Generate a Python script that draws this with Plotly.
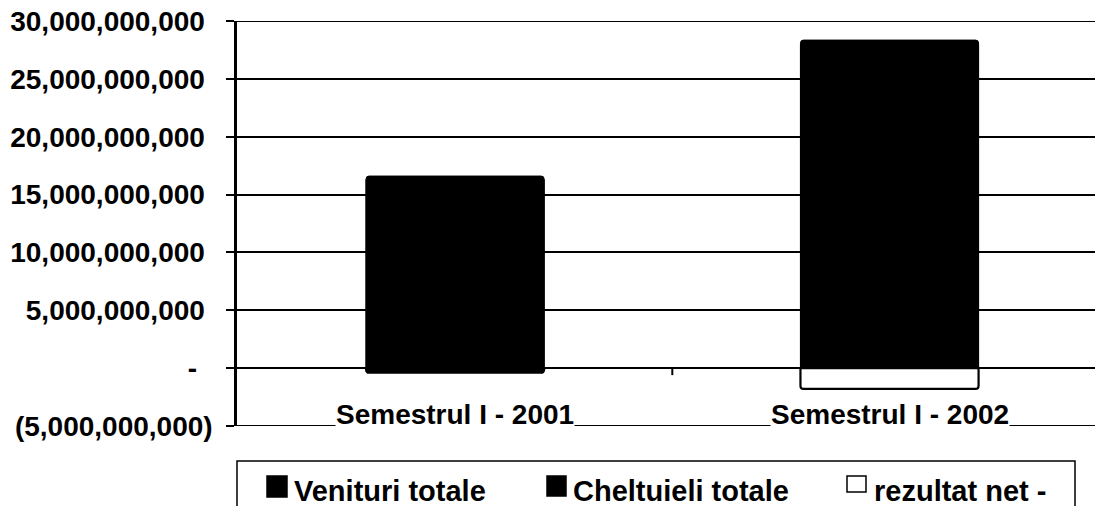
import plotly.graph_objects as go

# ---- data ----
categories = ["Semestrul I - 2001", "Semestrul I - 2002"]
venituri = [16.6e9, 28.35e9]
cheltuieli = [16.3e9, 27.9e9]
rezultat_net = [-0.4e9, -1.8e9]
series_names = ["Venituri totale", "Cheltuieli totale", "rezultat net -"]
tick_vals = [30e9, 25e9, 20e9, 15e9, 10e9, 5e9, 0, -5e9]
tick_text = ["30,000,000,000\u00a0", "25,000,000,000\u00a0", "20,000,000,000\u00a0",
             "15,000,000,000\u00a0", "10,000,000,000\u00a0", "5,000,000,000\u00a0",
             "-\u00a0\u00a0", "(5,000,000,000)"]

W, H = 1095, 506
ML, MR, MT, MB = 237, 0, 21, 80
PW, PH = W - ML - MR, H - MT - MB

def px(x):
    return (x - ML) / PW

def py(y):
    return (H - MB - y) / PH

FONT = "Liberation Sans, Arial, sans-serif"
xs = [0, 1]

fig = go.Figure()
fig.add_trace(go.Bar(x=xs, y=cheltuieli, name=series_names[1], width=0.41,
                     marker=dict(color="black", line=dict(color="black", width=1), cornerradius=3),
                     showlegend=False))
fig.add_trace(go.Bar(x=xs, y=venituri, name=series_names[0], width=0.41,
                     marker=dict(color="black", line=dict(color="black", width=1), cornerradius=3),
                     showlegend=False))
fig.add_trace(go.Bar(x=xs, y=rezultat_net, name=series_names[2], width=0.41,
                     marker=dict(color=["black", "white"], line=dict(color="black", width=2.2), cornerradius=3),
                     showlegend=False))

# category labels with white background over the bottom line
for i, c in enumerate(categories):
    fig.add_annotation(x=xs[i], y=-5e9, xref="x", yref="y", text="<b>%s</b>" % c,
                       showarrow=False, yanchor="middle", yshift=12, bgcolor="white",
                       borderpad=0, font=dict(family=FONT, size=28, color="black"))

shapes = []
# frame lines at top (30e9) and bottom (-5e9)
for yv in (tick_vals[0], tick_vals[-1]):
    shapes.append(dict(type="line", xref="paper", yref="y", x0=0, x1=1, y0=yv, y1=yv,
                       line=dict(color="black", width=2), layer="below"))
# category divider tick at the zero line
shapes.append(dict(type="line", xref="x", yref="y", x0=0.5, x1=0.5, ysizemode="pixel",
                   yanchor=0, y0=0, y1=-7, line=dict(color="black", width=2)))
# legend box
shapes.append(dict(type="rect", xref="paper", yref="paper", x0=px(237), x1=px(1075),
                   y0=py(461), y1=py(540), line=dict(color="black", width=1.5), fillcolor="white",
                   layer="above"))
legend_sym = [(267, 287, 476, 497, "black"), (547, 566, 476, 496, "black"), (847, 866, 476, 492, "white")]
legend_txt_x = [293, 572, 873]
for (x0, x1, y0, y1, col), tx, name in zip(legend_sym, legend_txt_x, series_names):
    shapes.append(dict(type="rect", xref="paper", yref="paper", x0=px(x0), x1=px(x1),
                       y0=py(y1), y1=py(y0), fillcolor=col, line=dict(color="black", width=1.5),
                       layer="above"))
    fig.add_annotation(x=px(tx), y=py(491), xref="paper", yref="paper", text="<b>%s</b>" % name,
                       showarrow=False, xanchor="left", yanchor="middle", borderpad=0,
                       font=dict(family=FONT, size=29, color="black"))

fig.update_layout(
    width=W, height=H, barmode="overlay",
    margin=dict(l=ML, r=MR, t=MT, b=MB),
    paper_bgcolor="white", plot_bgcolor="white",
    shapes=shapes,
    font=dict(family=FONT, size=28, color="black"),
    xaxis=dict(range=[-0.502, 1.473], showticklabels=False, showgrid=False, zeroline=False,
               showline=False, fixedrange=True),
    yaxis=dict(range=[-5e9, 30e9], tickvals=tick_vals, ticktext=["<b>%s</b>" % t for t in tick_text],
               showgrid=True, gridcolor="black", gridwidth=1.6, zeroline=True, zerolinecolor="black",
               zerolinewidth=1.6, showline=True, linecolor="black", linewidth=2.5,
               ticks="outside", ticklen=8, tickwidth=1.6, tickcolor="black",
               ticklabelstandoff=8, tickfont=dict(family=FONT, size=28, color="black")),
)

fig.write_html("out.html", config={"displayModeBar": False},
               post_script="document.body.style.margin='0';document.body.style.overflow='hidden';")
